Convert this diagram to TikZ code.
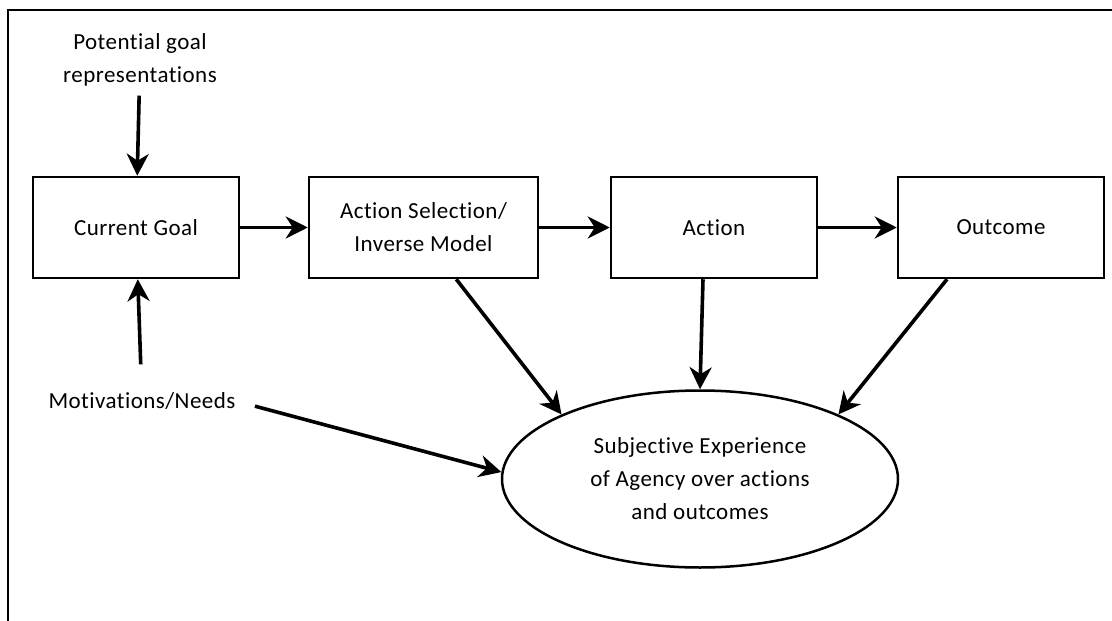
\documentclass[tikz,border=0pt]{standalone}
\usepackage{fontspec}
\setmainfont[Ligatures=NoCommon,LetterSpace=2]{Carlito}
\usetikzlibrary{arrows.meta,shapes.geometric}
\begin{document}
\begin{tikzpicture}[x=1pt,y=-1pt,
  box/.style={draw,line width=2.5pt,minimum height=101pt,inner sep=0pt,font=\fontsize{23}{33}\selectfont,align=center},
  lbl/.style={inner sep=0pt,font=\fontsize{23}{33}\selectfont,align=center},
  arr/.style={line width=3.6pt,-{Stealth[length=22pt,width=22pt,inset=7pt]}}]
\useasboundingbox (0,0) rectangle (1112,621);
\draw[line width=2pt] (8,621) -- (8,10) -- (1112,10);
\node[box,minimum width=206pt] (cg) at (136,227.5) {Current Goal};
\node[box,minimum width=229pt] (as) at (423.5,227.5) {Action Selection/\\Inverse Model};
\node[box,minimum width=206pt] (ac) at (714,227.5) {Action};
\node[box,minimum width=206pt] (oc) at (1001,227.5) {Outcome};
\node[lbl] (pg) at (140,60) {Potential goal\\representations};
\node[lbl] (mn) at (142,401) {Motivations/Needs};
\node[draw,ellipse,line width=2.5pt,minimum width=396pt,minimum height=177pt,inner sep=0pt,font=\fontsize{23}{33}\selectfont,align=center] (el) at (700,479) {Subjective Experience\\of Agency over actions\\and outcomes};
\draw[arr,shorten <=9pt] (pg) -- (cg);
\draw[arr,shorten <=28pt] (mn) -- (cg);
\draw[arr] (cg) -- (as);
\draw[arr] (as) -- (ac);
\draw[arr] (ac) -- (oc);
\draw[arr] ([xshift=-83pt]as.south east) -- (el.155);
\draw[arr] ([xshift=-11pt]ac.south) -- (el.north);
\draw[arr] ([xshift=-54pt]oc.south) -- (el.25);
\draw[arr,shorten <=20pt] (mn.east) -- (el.178);
\end{tikzpicture}
\end{document}
